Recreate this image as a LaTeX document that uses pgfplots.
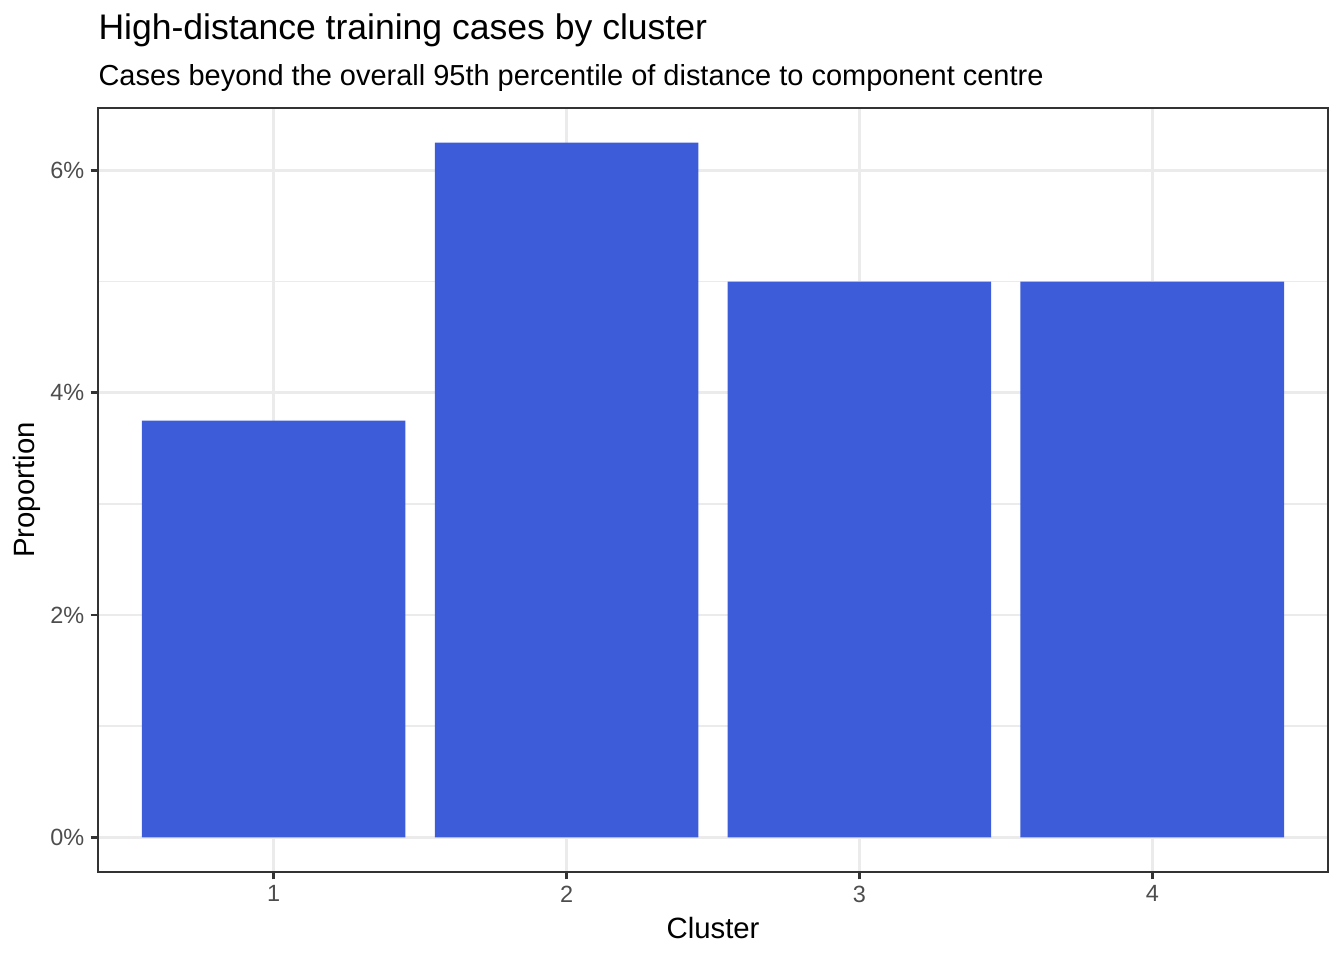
\documentclass[border=0pt]{standalone}
\usepackage{pgfplots}
\pgfplotsset{compat=1.18}
\usepackage{fontspec}
\setmainfont{Liberation Sans}
\definecolor{barblue}{HTML}{3C5CD9}
\definecolor{grid}{HTML}{EBEBEB}
\definecolor{grey20}{HTML}{333333}
\definecolor{grey30}{HTML}{4D4D4D}
\begin{document}
\begin{tikzpicture}
\useasboundingbox (0,0) rectangle (504pt,360pt);
\begin{axis}[
  at={(36.75pt,33pt)}, anchor=south west,
  scale only axis, width=461.25pt, height=286.5pt,
  xmin=0.4, xmax=4.6, ymin=-0.3125, ymax=6.5625,
  xtick={1,2,3,4}, xticklabels={1,2,3,4},
  ytick={0,2,4,6}, yticklabels={0\%,2\%,4\%,6\%},
  minor ytick={1,3,5},
  xmajorgrids, ymajorgrids, yminorgrids,
  major grid style={color=grid, line width=1.07pt},
  minor grid style={color=grid, line width=0.53pt},
  tick align=outside, major tick length=2.75pt, minor tick length=0pt,
  tick style={color=grey20, line width=1.07pt},
  xtick pos=bottom, ytick pos=left,
  axis line style={color=grey20, line width=1.07pt},
  ticklabel style={font=\fontsize{8.8}{10}\selectfont, text=grey30, inner sep=0pt},
  xticklabel style={anchor=north, yshift=-2.2pt},
  yticklabel style={anchor=east, xshift=-2.2pt},
]
\addplot[ybar, bar width=0.9, bar shift=0pt, fill=barblue, draw=none]
  coordinates {(1,3.75) (2,6.25) (3,5.0) (4,5.0)};
\end{axis}
\node[anchor=base west, inner sep=0pt, font=\fontsize{13.33}{15}\selectfont] at (36.75pt,345pt) {High-distance training cases by cluster};
\node[anchor=base west, inner sep=0pt, font=\fontsize{10.86}{13}\selectfont] at (36.75pt,328.1pt) {Cases beyond the overall 95th percentile of distance to component centre};
\node[anchor=base, inner sep=0pt, font=\fontsize{11}{13}\selectfont] at (267.4pt,8.25pt) {Cluster};
\node[anchor=base, rotate=90, inner sep=0pt, font=\fontsize{11}{13}\selectfont] at (13.1pt,176.25pt) {Proportion};
\end{tikzpicture}
\end{document}
